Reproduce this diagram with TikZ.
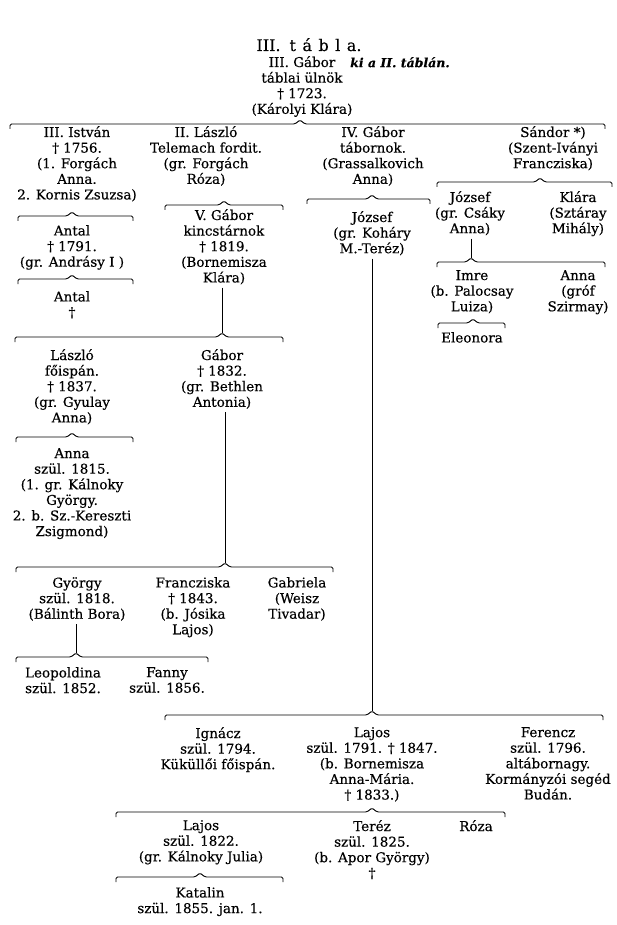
\documentclass[tikz,border=0pt]{standalone}
\usepackage{fontspec}
\setmainfont{DejaVu Serif}[FakeBold=0.4]

\begin{document}
\begin{tikzpicture}[x=1pt, y=-1pt,
    person/.style={align=center, anchor=north, inner sep=0pt,
                   font=\fontsize{13.5}{15.6}\selectfont},
    famline/.style={line width=0.9pt, rounded corners=1.5pt},
    descent/.style={line width=0.9pt, shorten <=3pt}]
    \path[fill=white, use as bounding box] (0,0) rectangle (616,925);

    % Title
    \node[anchor=north, inner sep=0pt, font=\fontsize{16}{18}\selectfont] (title) at (309, 38)
        {III.\hspace{9pt}t\hspace{6.5pt}á\hspace{6.5pt}b\hspace{6.5pt}l\hspace{6.5pt}a.};

    % Root of the table
    \node[person] (root) at (302, 56) {III. Gábor\\táblai ülnök\\† 1723.\\(Károlyi Klára)};
    \node[anchor=north west, inner sep=0pt, font=\fontsize{12.5}{14}\selectfont\bfseries\itshape]
        (note) at (350, 57) {ki a II. táblán.};

    % First generation
    \node[person] (istvan)  at (77, 126)  {III. István\\† 1756.\\(1. Forgách\\Anna.\\2. Kornis Zsuzsa)};
    \node[person] (laszlo)  at (206, 126) {II. László\\Telemach fordit.\\(gr. Forgách\\Róza)};
    \node[person] (gaborIV) at (373, 126) {IV. Gábor\\tábornok.\\(Grassalkovich\\Anna)};
    \node[person] (sandor)  at (553, 126) {Sándor *)\\(Szent-Iványi\\Francziska)};

    % Line of Istvan
    \node[person] (antal)  at (72, 225) {Antal\\† 1791.\\(gr. Andrásy I )};
    \node[person] (antalB) at (72, 291) {Antal\\†};

    % Line of Laszlo
    \node[person] (gaborV)  at (224, 209) {V. Gábor\\kincstárnok\\† 1819.\\(Bornemisza\\Klára)};
    \node[person] (laszloF) at (72, 349)  {László\\főispán.\\† 1837.\\(gr. Gyulay\\Anna)};
    \node[person] (gaborB)  at (222, 349) {Gábor\\† 1832.\\(gr. Bethlen\\Antonia)};
    \node[person] (anna)    at (72, 448)  {Anna\\szül. 1815.\\(1. gr. Kálnoky\\György.\\2. b. Sz.-Kereszti\\Zsigmond)};
    \node[person] (gyorgy)     at (77, 577)  {György\\szül. 1818.\\(Bálinth Bora)};
    \node[person] (francziska) at (193, 577) {Francziska\\† 1843.\\(b. Jósika\\Lajos)};
    \node[person] (gabriela)   at (297, 577) {Gabriela\\(Weisz\\Tivadar)};
    \node[person] (leopoldina) at (63, 667)  {Leopoldina\\szül. 1852.};
    \node[person] (fanny)      at (167, 667) {Fanny\\szül. 1856.};

    % Line of Sandor
    \node[person] (jozsefC)  at (470, 191) {József\\(gr. Csáky\\Anna)};
    \node[person] (klara)    at (578, 191) {Klára\\(Sztáray\\Mihály)};
    \node[person] (imre)     at (472, 270) {Imre\\(b. Palocsay\\Luiza)};
    \node[person] (annaS)    at (578, 270) {Anna\\(gróf\\Szirmay)};
    \node[person] (eleonora) at (472, 332) {Eleonora};

    % Line of Gabor IV
    \node[person] (jozsef)  at (372, 211) {József\\(gr. Koháry\\M.-Teréz)};
    \node[person] (ignacz)  at (218, 727) {Ignácz\\szül. 1794.\\Küküllői főispán.};
    \node[person] (lajos)   at (372, 727) {Lajos\\szül. 1791. † 1847.\\(b. Bornemisza\\Anna-Mária.\\† 1833.)};
    \node[person] (ferencz) at (548, 727) {Ferencz\\szül. 1796.\\altábornagy.\\Kormányzói segéd\\Budán.};
    \node[person] (lajosB)  at (201, 820) {Lajos\\szül. 1822.\\(gr. Kálnoky Julia)};
    \node[person] (terez)   at (372, 820) {Teréz\\szül. 1825.\\(b. Apor György)\\†};
    \node[person] (roza)    at (476, 820) {Róza};
    \node[person] (katalin) at (200, 887) {Katalin\\szül. 1855. jan. 1.};

    % Sibling brackets: left end / right end / peak / height
    \foreach \xa/\xb/\xm/\yb in {10/605/300/124, 18/133/72/216, 165/283/224/205,
            18/133/72/279, 15/283/222/337, 16/133/72/437, 16/333/225/567,
            16/208/76/657, 307/430/372/199, 437/612/540/182, 437/605/471/262,
            438/505/473/323, 165/603/372/715, 116/505/372/812, 116/283/200/877} {
        \draw[famline] (\xa,\yb+5) -- (\xa,\yb) -- (\xm-5,\yb) -- (\xm,\yb-4)
            -- (\xm+5,\yb) -- (\xb,\yb) -- (\xb,\yb+5);
    }

    % Descent lines down to the peaks of the brackets
    \coordinate (pGaborV)  at (222, 333);
    \coordinate (pGaborB)  at (225, 563);
    \coordinate (pGyorgy)  at (76, 653);
    \coordinate (pJozsef)  at (372, 711);
    \coordinate (pJozsefC) at (471, 258);
    \draw[descent] (gaborV.south -| pGaborV) -- (pGaborV);
    \draw[descent] (gaborB.south -| pGaborB) -- (pGaborB);
    \draw[descent] (gyorgy.south -| pGyorgy) -- (pGyorgy);
    \draw[descent] (jozsef.south -| pJozsef) -- (pJozsef);
    \draw[descent] (jozsefC.south -| pJozsefC) -- (pJozsefC);
\end{tikzpicture}
\end{document}
